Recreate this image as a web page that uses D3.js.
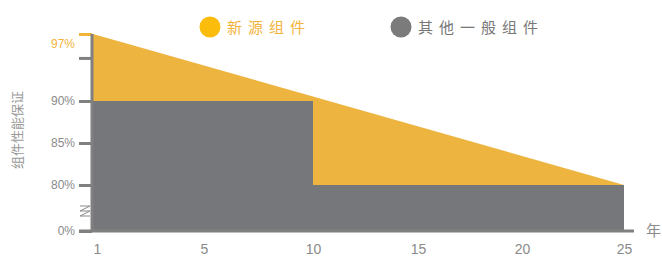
<!DOCTYPE html>
<html>
<head>
<meta charset="utf-8">
<script src="https://cdn.jsdelivr.net/npm/d3@7"></script>
<style>
  body { margin: 0; background: #fff; }
  svg { display: block; font-family: "Liberation Sans", "Noto Sans CJK SC", sans-serif; }
</style>
</head>
<body>
<svg width="662" height="258"></svg>
<script>
// data
var years = [1, 5, 10, 15, 20, 25];
var newSource = [[1, 97], [25, 80]];
var general = [[1, 90], [10, 90], [10, 80], [25, 80]];
var yTicks = [0, 80, 85, 90, 94.5, 97];
var yLabels = ["0%", "80%", "85%", "90%", "", "97%"];
var legendNames = ["新源组件", "其他一般组件"];
var colors = ["#edb440", "#76777b"];

const svg = d3.select("svg");

// broken y axis: 0 then 80..97
var y = d3.scaleLinear().domain([0, 80, 90, 97]).range([231, 185, 101, 34]);
// years are spaced evenly by label, not by value
var x = d3.scaleLinear().domain(years).range([93, 204, 313, 418, 522, 624]);

var area = d3.area()
  .x(function (d) { return x(d[0]); })
  .y0(y(0))
  .y1(function (d) { return y(d[1]); });

svg.append("path").datum(newSource).attr("d", area).attr("fill", colors[0]);
svg.append("path").datum(general).attr("d", area).attr("fill", colors[1]);

// y axis
var yAxis = svg.append("g").attr("transform", "translate(92,0)")
  .call(d3.axisLeft(y).tickValues(yTicks).tickSize(13).tickPadding(4)
    .tickFormat(function (d, i) { return yLabels[i]; }));
yAxis.select(".domain").remove();
yAxis.append("line").attr("x1", 0).attr("x2", 0).attr("y1", y(97)).attr("y2", y(0))
  .attr("stroke", "#808080").attr("stroke-width", 3);
yAxis.selectAll(".tick line").attr("stroke", "#808080").attr("stroke-width", 3);
yAxis.selectAll(".tick text").attr("fill", "#8a8a8a").attr("font-size", 12)
  .attr("dy", function (d) { return d == 97 ? "1.1em" : "0.32em"; });
yAxis.selectAll(".tick").filter(function (d) { return d == 97; })
  .selectAll("line, text").attr("stroke", function () { return this.tagName == "line" ? "#f2b43c" : null; })
  .attr("fill", "#f2b43c");

// break mark on the y axis
var br = svg.append("g").attr("stroke", "#8a8a8a").attr("stroke-width", 1).attr("fill", "none");
br.append("path").attr("d", "M80,206 L90,206 L80,211 L90,211 L80,216 L90,216");

// x axis
var xAxis = svg.append("g").attr("transform", "translate(0," + (y(0)) + ")")
  .call(d3.axisBottom(x).tickValues(years).tickSize(0).tickPadding(13).tickFormat(d3.format("d")));
xAxis.select(".domain").remove();
xAxis.append("line").attr("x1", 79).attr("x2", 634).attr("y1", 0).attr("y2", 0)
  .attr("stroke", "#808080").attr("stroke-width", 3);
xAxis.selectAll(".tick text").attr("fill", "#8a8a8a").attr("font-size", 14)
  .attr("dx", function (d) { return d == 1 ? 4 : 0; });

svg.append("text").attr("x", 646).attr("y", 236).attr("fill", "#8a8a8a")
  .attr("font-size", 15).attr("font-family", "Noto Sans CJK SC").text("年");

// y title
svg.append("text").attr("transform", "translate(22,130) rotate(-90)")
  .attr("text-anchor", "middle").attr("fill", "#9a9a9a").attr("font-size", 13)
  .attr("font-family", "Noto Sans CJK SC").text("组件性能保证");

// legend
var legend = svg.append("g").selectAll("g").data(legendNames).join("g")
  .attr("transform", function (d, i) { return "translate(" + [210, 401][i] + ",27)"; });
legend.append("circle").attr("r", 10.5)
  .attr("fill", function (d, i) { return i == 0 ? "#fbbc0c" : "#7b7b7b"; });
legend.append("text").attr("x", 17).attr("y", 6)
  .attr("font-size", 15).attr("letter-spacing", 6).attr("font-family", "Noto Sans CJK SC")
  .attr("fill", function (d, i) { return i == 0 ? "#f2b43c" : "#777"; })
  .text(function (d) { return d; });
</script>
</body>
</html>
